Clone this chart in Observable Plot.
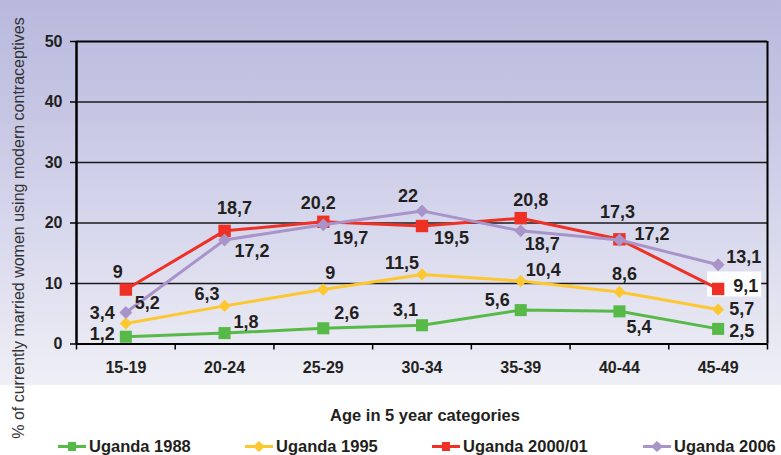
<!DOCTYPE html>
<html>
<head>
<meta charset="utf-8">
<script src="https://cdn.jsdelivr.net/npm/d3@7"></script>
<script src="https://cdn.jsdelivr.net/npm/@observablehq/plot@0.6"></script>
<style>
  html, body { margin: 0; padding: 0; background: #ffffff; }
  #wrap { position: relative; width: 781px; height: 455px; overflow: hidden;
          font-family: "Liberation Sans", Arial, Helvetica, sans-serif; color: #231f20; }
  #bg { position: absolute; left: 0; top: 0; width: 781px; height: 385px;
        background: linear-gradient(to bottom, #b9b9de 0%, #c4c4e3 25%, #d5d5ec 55%, #e5e5f2 82%, #efeff6 100%); }
  #chart { position: absolute; left: 0; top: 0; }
  #ytitle { position: absolute; left: -231px; top: 219px; width: 500px; text-align: center;
            font-size: 16px; line-height: 18px; color: #333; transform: rotate(-90deg); transform-origin: 250px 9px; white-space: nowrap; }
  #xtitle { position: absolute; left: 225px; top: 405px; width: 400px; text-align: center;
            font-size: 16.5px; font-weight: bold; line-height: 20px; white-space: nowrap; }
  .leg { position: absolute; top: 436px; height: 20px; display: flex; align-items: center;
         font-size: 16.5px; font-weight: bold; white-space: nowrap; }
  .leg svg { margin-right: 3px; }
</style>
</head>
<body>
<div id="wrap">
  <div id="bg"></div>
  <div id="chart"></div>
  <div id="ytitle"></div>
  <div id="xtitle"></div>
  <div id="legend"></div>
</div>
<script>
// ---- data ----
const ageGroups = ["15-19", "20-24", "25-29", "30-34", "35-39", "40-44", "45-49"];
const seriesNames = ["Uganda 1988", "Uganda 1995", "Uganda 2000/01", "Uganda 2006"];
const uganda1988 = [1.2, 1.8, 2.6, 3.1, 5.6, 5.4, 2.5];
const uganda1995 = [3.4, 6.3, 9, 11.5, 10.4, 8.6, 5.7];
const uganda2000 = [9, 18.7, 20.2, 19.5, 20.8, 17.3, 9.1];
const uganda2006 = [5.2, 17.2, 19.7, 22, 18.7, 17.2, 13.1];
const yTicks = [0, 10, 20, 30, 40, 50];
const yTitle = "% of currently married women using modern contraceptives";
const xTitle = "Age in 5 year categories";

// ---- styles (kept apart from the data) ----
const seriesColors = ["#57b947", "#fdc82f", "#ee3124", "#a894c9"];
const diamond = d3.symbolDiamond2 || { draw(c, s) { const r = Math.sqrt(s) * 0.62625; c.moveTo(0, -r); c.lineTo(r, 0); c.lineTo(0, r); c.lineTo(-r, 0); c.closePath(); } };
const seriesSymbols = [d3.symbolSquare, diamond, d3.symbolSquare, diamond];
const seriesR = [6.8, 5.5, 7.0, 5.8];
// label nudges per point: [dx, dy, anchor]
const labelNudges = [
  [[-11, -3, "end"], [9, -11, "start"], [11, -15, "start"], [-4, -15, "end"], [-11, -10, "end"], [7, 16, "start"], [11, 2, "start"]],
  [[-11, -10, "end"], [-5, -12, "end"], [7, -16, "middle"], [-3, -11, "end"], [5, -11, "start"], [5, -18, "middle"], [11, 0, "start"]],
  [[-8, -17, "middle"], [10, -23, "middle"], [-5, -19, "middle"], [12, 12, "start"], [10, -18, "middle"], [-2, -27, "middle"], [15, -3, "start", "box"]],
  [[9, -9, "start"], [10, 11, "start"], [10, 13, "start"], [-14, -15, "middle"], [4, 13, "start"], [15, -6, "start"], [8, -8, "start"]]
];

const seriesValues = [uganda1988, uganda1995, uganda2000, uganda2006];
const rows = [];
seriesValues.forEach((vals, s) => vals.forEach((v, i) => rows.push({
  series: seriesNames[s], s, i, age: ageGroups[i], x: i + 0.5, value: v
})));
const fmt = v => String(v).replace(".", ",");

const labelBox = { draw(c) { c.rect(-11, -17.5, 54, 25); } };

const marks = [
  Plot.ruleY(yTicks.filter(t => t > 0 && t < 50), { stroke: "#1a1a1a", strokeWidth: 1.5 }),
];
rows.forEach(d => {
  const n = labelNudges[d.s][d.i];
  if (n[3] === "box") marks.push(Plot.dot([d], { x: "x", y: "value", symbol: labelBox, r: 1, fill: "#ffffff", stroke: "none" }));
});
marks.push(
  Plot.ruleY([50], { stroke: "#000", strokeWidth: 2 }),
  Plot.ruleY([0], { stroke: "#000", strokeWidth: 2 }),
  Plot.ruleX([0], { y1: 0, y2: 50, stroke: "#000", strokeWidth: 2.5 }),
  Plot.ruleX([7], { y1: 0, y2: 50, stroke: "#000", strokeWidth: 2 }),
  Plot.axisY({ ticks: yTicks, tickSize: 6, tickPadding: 8, stroke: "#000", strokeWidth: 1.5,
               fill: "#231f20", fontSize: 16, fontWeight: "bold", label: null }),
  Plot.axisX({ ticks: d3.range(ageGroups.length + 1), tickSize: 6, tickFormat: () => "",
               stroke: "#000", strokeWidth: 1.5, label: null }),
  Plot.axisX({ ticks: ageGroups.map((_, i) => i + 0.5), tickSize: 0, tickPadding: 18,
               tickFormat: t => ageGroups[Math.round(t - 0.5)], fill: "#231f20",
               fontSize: 16, fontWeight: "bold", label: null })
);
seriesNames.forEach((name, s) => {
  const data = rows.filter(d => d.s === s);
  marks.push(
    Plot.line(data, { x: "x", y: "value", stroke: seriesColors[s], strokeWidth: 3 }),
    Plot.dot(data, { x: "x", y: "value", symbol: seriesSymbols[s], r: seriesR[s], fill: seriesColors[s], stroke: "none" })
  );
});
rows.forEach(d => {
  const [dx, dy, anchor] = labelNudges[d.s][d.i];
  marks.push(Plot.text([d], { x: "x", y: "value", text: d => fmt(d.value), dx, dy, textAnchor: anchor,
    lineAnchor: "middle", fontSize: 18, fontWeight: "bold", fill: "#231f20" }));
});

const chart = Plot.plot({
  width: 781,
  height: 385,
  marginLeft: 76,
  marginRight: 14,
  marginTop: 41,
  marginBottom: 41.5,
  x: { type: "linear", domain: [0, ageGroups.length] },
  y: { domain: [0, 50] },
  style: { background: "transparent", fontFamily: "'Liberation Sans', Arial, sans-serif", overflow: "visible" },
  marks
});
document.getElementById("chart").appendChild(chart);
document.getElementById("ytitle").textContent = yTitle;
document.getElementById("xtitle").textContent = xTitle;

// legend
const legendX = [58, 245, 432, 643];
const legend = document.getElementById("legend");
seriesNames.forEach((name, s) => {
  const item = document.createElement("div");
  item.className = "leg";
  item.style.left = legendX[s] + "px";
  const isSquare = seriesSymbols[s] === d3.symbolSquare;
  const shape = isSquare
    ? `<rect x="10" y="3" width="8" height="9" fill="${seriesColors[s]}"/>`
    : `<path d="M14 2 L20 7.5 L14 13 L8 7.5 Z" fill="${seriesColors[s]}"/>`;
  item.innerHTML = `<svg width="28" height="15"><line x1="0" x2="28" y1="7.5" y2="7.5" stroke="${seriesColors[s]}" stroke-width="3"/>${shape}</svg><span>${name}</span>`;
  legend.appendChild(item);
});
</script>
</body>
</html>
